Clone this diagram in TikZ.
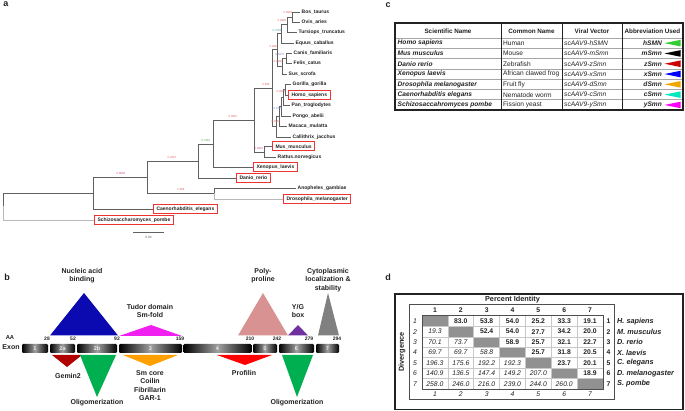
\documentclass[tikz,border=0pt]{standalone}
\usepackage{fontspec}
\setmainfont{Liberation Sans}
\definecolor{txt}{HTML}{222222}
\definecolor{treeline}{HTML}{606060}
\definecolor{boxred}{HTML}{EE3333}
\definecolor{lred}{HTML}{E06060}
\definecolor{lcyan}{HTML}{40A0A8}
\definecolor{lpurple}{HTML}{9070C0}
\definecolor{lblue}{HTML}{6080C8}
\definecolor{lgreen}{HTML}{40A050}
\definecolor{lmag}{HTML}{D04090}
\definecolor{tgreen}{HTML}{33CC33}
\definecolor{tred}{HTML}{CC0000}
\definecolor{tblue}{HTML}{0000FF}
\definecolor{torange}{HTML}{F0A800}
\definecolor{tcyan}{HTML}{00E8C0}
\definecolor{tmag}{HTML}{FF00FF}
\definecolor{nucblue}{HTML}{0A0AB0}
\definecolor{tudmag}{HTML}{F020F0}
\definecolor{polypink}{HTML}{D99292}
\definecolor{ygpurple}{HTML}{7030A0}
\definecolor{cytgray}{HTML}{808080}
\definecolor{gemred}{HTML}{B00000}
\definecolor{oligreen}{HTML}{00B050}
\definecolor{smorange}{HTML}{FFA000}
\definecolor{profred}{HTML}{FF0000}
\definecolor{gridgray}{HTML}{C8C8C8}
\begin{document}
\begin{tikzpicture}[x=1pt,y=-1pt,
  br/.style={draw=treeline, line width=0.8pt},
  brl/.style={draw=gray!55, line width=1pt},
  leaf/.style={anchor=west, inner xsep=1.5pt, inner ysep=0pt, font=\fontsize{5}{6}\selectfont\bfseries, text=txt},
  leafbox/.style={leaf, draw=boxred, line width=1pt, inner xsep=3pt, minimum height=9pt},
  bl/.style={font=\fontsize{2.8}{3}\selectfont, inner sep=0pt},
  panel/.style={font=\fontsize{9}{10}\selectfont\bfseries, text=txt, inner sep=0pt},
  tabf/.style={font=\fontsize{6.6}{7.5}\selectfont, text=txt, inner sep=0pt},
  exon/.style={minimum height=9pt, inner sep=0pt, rounded corners=1.2pt, left color=black, right color=black, middle color=gray!75, text=white!85!gray, font=\fontsize{5.5}{6}\selectfont\bfseries},
  blab/.style={font=\fontsize{7}{8.4}\selectfont\bfseries, text=txt, align=center, inner sep=0pt},
  aa/.style={font=\fontsize{5}{6}\selectfont\bfseries, text=txt, inner sep=0pt},
  dnum/.style={font=\fontsize{6.8}{7.5}\selectfont, text=txt, inner sep=0pt},
  dsp/.style={font=\fontsize{7.3}{8}\selectfont\bfseries\itshape, text=txt, inner sep=0pt, anchor=west}
]
\useasboundingbox (0,0) rectangle (685,411);
\fill[white] (0,0) rectangle (685,411);

% ---------------- panel a : tree ----------------
\node[panel] (pa) at (6,4) {a};
% internal nodes
\coordinate (N1) at (292,17);
\coordinate (N2) at (287,24.5);
\coordinate (N3) at (281,33.75);
\coordinate (N5) at (286,58);
\coordinate (N6) at (282,66);
\coordinate (N4) at (277,49.9);
\coordinate (Pa) at (285,89.5);
\coordinate (Pb) at (283,97.25);
\coordinate (Pc) at (281,106.6);
\coordinate (Pd) at (279,116.3);
\coordinate (Pe) at (276,126.7);
\coordinate (H) at (272,88.3);
\coordinate (R) at (264,152);
\coordinate (G) at (254,120);
\coordinate (F) at (213,144);
\coordinate (D) at (198,161);
\coordinate (E) at (214,193.5);
\coordinate (B) at (147,177);
\coordinate (A) at (93,193);
\coordinate (Root) at (3,206.5);
% leaves
\node[leaf] (bos) at (300,12) {Bos\_taurus};
\node[leaf] (ovis) at (300,22) {Ovis\_aries};
\node[leaf] (turs) at (297,32) {Tursiops\_truncatus};
\node[leaf] (equus) at (294,43) {Equus\_caballus};
\node[leaf] (canis) at (292,53) {Canis\_familiaris};
\node[leaf] (felis) at (292,63) {Felis\_catus};
\node[leaf] (sus) at (287,74) {Sus\_scrofa};
\node[leaf] (gor) at (291,84) {Gorilla\_gorilla};
\node[leafbox] (homo) at (288,95.5) {Homo\_sapiens};
\node[leaf] (pan) at (290,105.5) {Pan\_troglodytes};
\node[leaf] (pongo) at (291,116) {Pongo\_abelii};
\node[leaf] (mac) at (287,126) {Macaca\_mulatta};
\node[leaf] (cal) at (291,137) {Callithrix\_jacchus};
\node[leafbox] (mus) at (272,146.5) {Mus\_musculus};
\node[leaf] (rat) at (276,157) {Rattus.norvegicus};
\node[leafbox] (xen) at (253,167.5) {Xenopus\_laevis};
\node[leafbox] (dan) at (236,178) {Danio\_rerio};
\node[leaf] (ano) at (296,188) {Anopheles\_gambiae};
\node[leafbox] (dro) at (283,199.5) {Drosophila\_melanogaster};
\node[leafbox] (cel) at (153,209) {Caenorhabditis\_elegans};
\node[leafbox] (sch) at (94,220.5) {Schizosaccharomyces\_pombe};
% branches
\draw[br] (N1) |- (bos.west); \draw[br] (N1) |- (ovis.west);
\draw[br] (N2) |- (N1); \draw[br] (N2) |- (turs.west);
\draw[br] (N3) |- (N2); \draw[br] (N3) |- (equus.west);
\draw[br] (N5) |- (canis.west); \draw[br] (N5) |- (felis.west);
\draw[br] (N6) |- (N5); \draw[br] (N6) |- (sus.west);
\draw[br] (N4) |- (N3); \draw[br] (N4) |- (N6);
\draw[br] (Pa) |- (gor.west); \draw[br] (Pa) |- (homo.west);
\draw[br] (Pb) |- (Pa); \draw[br] (Pb) |- (pan.west);
\draw[br] (Pc) |- (Pb); \draw[br] (Pc) |- (pongo.west);
\draw[br] (Pd) |- (Pc); \draw[br] (Pd) |- (mac.west);
\draw[br] (Pe) |- (Pd); \draw[br] (Pe) |- (cal.west);
\draw[br] (H) |- (N4); \draw[br] (H) |- (Pe);
\draw[br] (R) |- (mus.west); \draw[br] (R) |- (rat.west);
\draw[br] (G) |- (H); \draw[br] (G) |- (R);
\draw[br] (F) |- (G); \draw[br] (F) |- (xen.west);
\draw[br] (D) |- (F); \draw[br] (D) |- (dan.west);
\draw[br] (E) |- (ano.west); \draw[brl] (E) |- (dro.west);
\draw[br] (B) |- (D); \draw[br] (B) |- (E);
\draw[br] (A) |- (B); \draw[br] (A) |- (cel.west);
\draw[br] (Root) |- (A); \draw[brl] (Root) |- (sch.west);
% branch support labels
\node[bl,text=lred] (l1) at (288,13) {0.9999};
\node[bl,text=lred] (l2) at (282,21) {0.9998};
\node[bl,text=lcyan] (l3) at (277,31) {0.7263};
\node[bl,text=lred] (l4) at (274,47) {0.9994};
\node[bl,text=lpurple] (l5) at (280,55) {0.5872};
\node[bl,text=lred] (l6) at (278,62) {0.9996};
\node[bl,text=lred] (l7) at (266,85) {0.966};
\node[bl,text=lred] (l8) at (281,92) {0.9999};
\node[bl,text=lblue] (l9) at (278,109) {0.6776};
\node[bl,text=lred] (l10) at (276,122) {0.9992};
\node[bl,text=lred] (l11) at (233,117) {0.9997};
\node[bl,text=lmag] (l12) at (259,149) {0.9997};
\node[bl,text=lgreen] (l13) at (206,141) {0.7261};
\node[bl,text=lred] (l14) at (172,158) {0.2697};
\node[bl,text=lred] (l15) at (181,190) {0.898};
\node[bl,text=lmag] (l16) at (121,174) {0.8594};
% scale bar
\coordinate (sb1) at (133,232); \coordinate (sb2) at (164,232);
\draw[draw=treeline, line width=0.8pt] (sb1) -- (sb2);
\node[bl,text=treeline,font=\fontsize{3.2}{4}\selectfont] (sbl) at (148.5,237) {0.04};

% ---------------- panel c : table ----------------
\node[panel] (pc) at (388,5) {c};
\foreach \k in {0,...,6} \draw[gray!70, line width=0.7pt] (395,{38+\k*10.3}) -- (683,{38+\k*10.3});
\foreach \x in {501,562,622} \draw[line width=0.6pt, draw=txt] (\x,23) -- (\x,110);
\draw[line width=1.2pt, draw=txt] (395,23) rectangle (683,110);
\node[tabf,font=\fontsize{6.3}{7}\selectfont\bfseries] (h1) at (448,31) {Scientific Name};
\node[tabf,font=\fontsize{6.3}{7}\selectfont\bfseries] (h2) at (531.5,31) {Common Name};
\node[tabf,font=\fontsize{6.3}{7}\selectfont\bfseries] (h3) at (592,31) {Viral Vector};
\node[tabf,font=\fontsize{6.3}{7}\selectfont\bfseries] (h4) at (652.5,31) {Abbreviation Used};
\foreach \i/\sn/\cn/\vv/\ab/\cl in {
  1/Homo sapiens/Human/scAAV9-hSMN/hSMN/tgreen,
  2/Mus musculus/Mouse/scAAV9-mSmn/mSmn/black,
  3/Danio rerio/Zebrafish/scAAV9-zSmn/zSmn/tred,
  4/Xenopus laevis/African clawed frog/scAAV9-xSmn/xSmn/tblue,
  5/Drosophila melanogaster/Fruit fly/scAAV9-dSmn/dSmn/torange,
  6/Caenorhabditis elegans/Nematode worm/scAAV9-cSmn/cSmn/tcyan,
  7/Schizosaccahromyces pombe/Fission yeast/scAAV9-ySmn/ySmn/tmag}{
  \pgfmathsetmacro\yy{38+(\i-0.5)*10.3}
  \node[tabf,anchor=west,font=\fontsize{6.6}{7.5}\selectfont\bfseries\itshape] (s\i) at (397.5,\yy) {\sn};
  \node[tabf,anchor=west] (cm\i) at (503,\yy) {\cn};
  \node[tabf,anchor=west,font=\fontsize{6.6}{7.5}\selectfont\itshape] (v\i) at (564,\yy) {\vv};
  \node[tabf,anchor=east,font=\fontsize{6.6}{7.5}\selectfont\bfseries\itshape] (ab\i) at (662,\yy) {\ab};
  \fill[\cl] (664.5,\yy) -- (680.5,\yy-3.3) -- (680.5,\yy+3.3) -- cycle;
}

% ---------------- panel b : exons ----------------
\node[panel] (pb) at (7,277) {b};
% domain triangles above
\fill[nucblue] (50,335.5) -- (84,293) -- (118,335.5) -- cycle;
\fill[tudmag] (119,336) -- (151,325) -- (182,336) -- cycle;
\fill[polypink] (238,335.5) -- (263,293) -- (288,335.5) -- cycle;
\fill[ygpurple] (288,335.5) -- (298,325) -- (308,335.5) -- cycle;
\fill[cytgray] (318,335.5) -- (328,293) -- (339,335.5) -- cycle;
% triangles below
\fill[gemred] (52,355) -- (82,355) -- (67,367) -- cycle;
\fill[oligreen] (80,355) -- (116,355) -- (97,397) -- cycle;
\fill[smorange] (123,355) -- (178,355) -- (150,366) -- cycle;
\fill[profred] (217,355) -- (272,355) -- (245,365) -- cycle;
\fill[oligreen] (282,355) -- (313,355) -- (297,397) -- cycle;
% exon bar
\node[exon, minimum width=26pt] (e1) at (35,348.5) {1};
\node[exon, minimum width=25pt] (e2a) at (62.5,348.5) {2a};
\node[exon, minimum width=40pt] (e2b) at (97,348.5) {2b};
\node[exon, minimum width=63pt] (e3) at (150.5,348.5) {3};
\node[exon, minimum width=68pt] (e4) at (217.5,348.5) {4};
\node[exon, minimum width=24pt] (e5) at (265,348.5) {5};
\node[exon, minimum width=35pt] (e6) at (296.5,348.5) {6};
\node[exon, minimum width=23pt] (e7) at (327.5,348.5) {7};
\node[aa,font=\fontsize{5.8}{6}\selectfont\bfseries] (aal) at (10,337.5) {AA};
\node[aa,font=\fontsize{7}{8}\selectfont\bfseries] (exl) at (11,347.5) {Exon};
\node[aa] (n28) at (47,339) {28};
\node[aa] (n52) at (73,339) {52};
\node[aa] (n92) at (117,339) {92};
\node[aa] (n159) at (180,339) {159};
\node[aa] (n210) at (250,339) {210};
\node[aa] (n242) at (277,339) {242};
\node[aa] (n279) at (309,339) {279};
\node[aa] (n294) at (337,339) {294};
% labels
\node[blab] (lnuc) at (82,275.5) {Nucleic acid\\binding};
\node[blab] (ltud) at (150,311) {Tudor domain\\Sm-fold};
\node[blab] (lgem) at (68,376) {Gemin2};
\node[blab] (loli1) at (97,403) {Oligomerization};
\node[blab] (lsm) at (150,385.6) {Sm core\\Coilin\\Fibrillarin\\GAR-1};
\node[blab] (lpoly) at (263,275.5) {Poly-\\proline};
\node[blab] (lyg) at (298,311) {Y/G\\box};
\node[blab] (lcyt) at (328,280) {Cytoplasmic\\localization \&\\stability};
\node[blab] (lprof) at (244,373) {Profilin};
\node[blab] (loli2) at (297,403) {Oligomerization};

% ---------------- panel d : matrix ----------------
\node[panel] (pd) at (388,277) {d};
\draw[line width=1.3pt, draw=txt] (395,294) rectangle (683,409.5);
\foreach \k in {1,...,7}
  \fill[gray!85!black!75] ({422+(\k-1)*25.857},{316+(\k-1)*10.43}) rectangle +(25.857,10.43);
\foreach \k in {1,...,6} {
  \draw[gridgray, line width=0.6pt] ({422+\k*25.857},316) -- ({422+\k*25.857},389);
  \draw[gridgray, line width=0.6pt] (422,{316+\k*10.43}) -- (603,{316+\k*10.43});
}
\draw[line width=1pt, draw=txt!80] (422,316) rectangle (603,389);
\draw[line width=1pt, draw=txt!80] (409,305) rectangle (614,399);
\node[dnum,font=\fontsize{7.3}{8}\selectfont\bfseries] (pid) at (512.5,300) {Percent Identity};
\node[dnum,font=\fontsize{7.3}{8}\selectfont\bfseries,rotate=90] (div) at (402,352) {Divergence};
\foreach \k/\sp in {1/H. sapiens,2/M. musculus,3/D. rerio,4/X. laevis,5/C. elegans,6/D. melanogaster,7/S. pombe} {
  \node[dnum,font=\fontsize{6.8}{7.5}\selectfont\bfseries] (ct\k) at ({422+(\k-0.5)*25.857},310.5) {\k};
  \node[dnum,font=\fontsize{6.8}{7.5}\selectfont\itshape] (cb\k) at ({422+(\k-0.5)*25.857},394) {\k};
  \node[dnum,font=\fontsize{6.8}{7.5}\selectfont\itshape] (rl\k) at (415,{316+(\k-0.5)*10.43}) {\k};
  \node[dnum,font=\fontsize{6.8}{7.5}\selectfont\bfseries] (rr\k) at (608.5,{316+(\k-0.5)*10.43}) {\k};
  \node[dsp] (sp\k) at (617,{316+(\k-0.5)*10.43}) {\sp};
}
\foreach \r/\c/\v in {1/2/83.0,1/3/53.8,1/4/54.0,1/5/25.2,1/6/33.3,1/7/19.1,
  2/3/52.4,2/4/54.0,2/5/27.7,2/6/34.2,2/7/20.0,
  3/4/58.9,3/5/25.7,3/6/32.1,3/7/22.7,
  4/5/25.7,4/6/31.8,4/7/20.5,
  5/6/23.7,5/7/20.1,
  6/7/18.9}
  \node[dnum,font=\fontsize{6.8}{7.5}\selectfont\bfseries] (u\r\c) at ({422+(\c-0.5)*25.857},{316+(\r-0.5)*10.43}) {\v};
\foreach \r/\c/\v in {2/1/19.3,
  3/1/70.1,3/2/73.7,
  4/1/69.7,4/2/69.7,4/3/58.8,
  5/1/196.3,5/2/175.6,5/3/192.2,5/4/192.3,
  6/1/140.9,6/2/136.5,6/3/147.4,6/4/149.2,6/5/207.0,
  7/1/258.0,7/2/246.0,7/3/216.0,7/4/239.0,7/5/244.0,7/6/260.0}
  \node[dnum,font=\fontsize{6.8}{7.5}\selectfont\itshape] (w\r\c) at ({422+(\c-0.5)*25.857},{316+(\r-0.5)*10.43}) {\v};
\end{tikzpicture}
\end{document}
